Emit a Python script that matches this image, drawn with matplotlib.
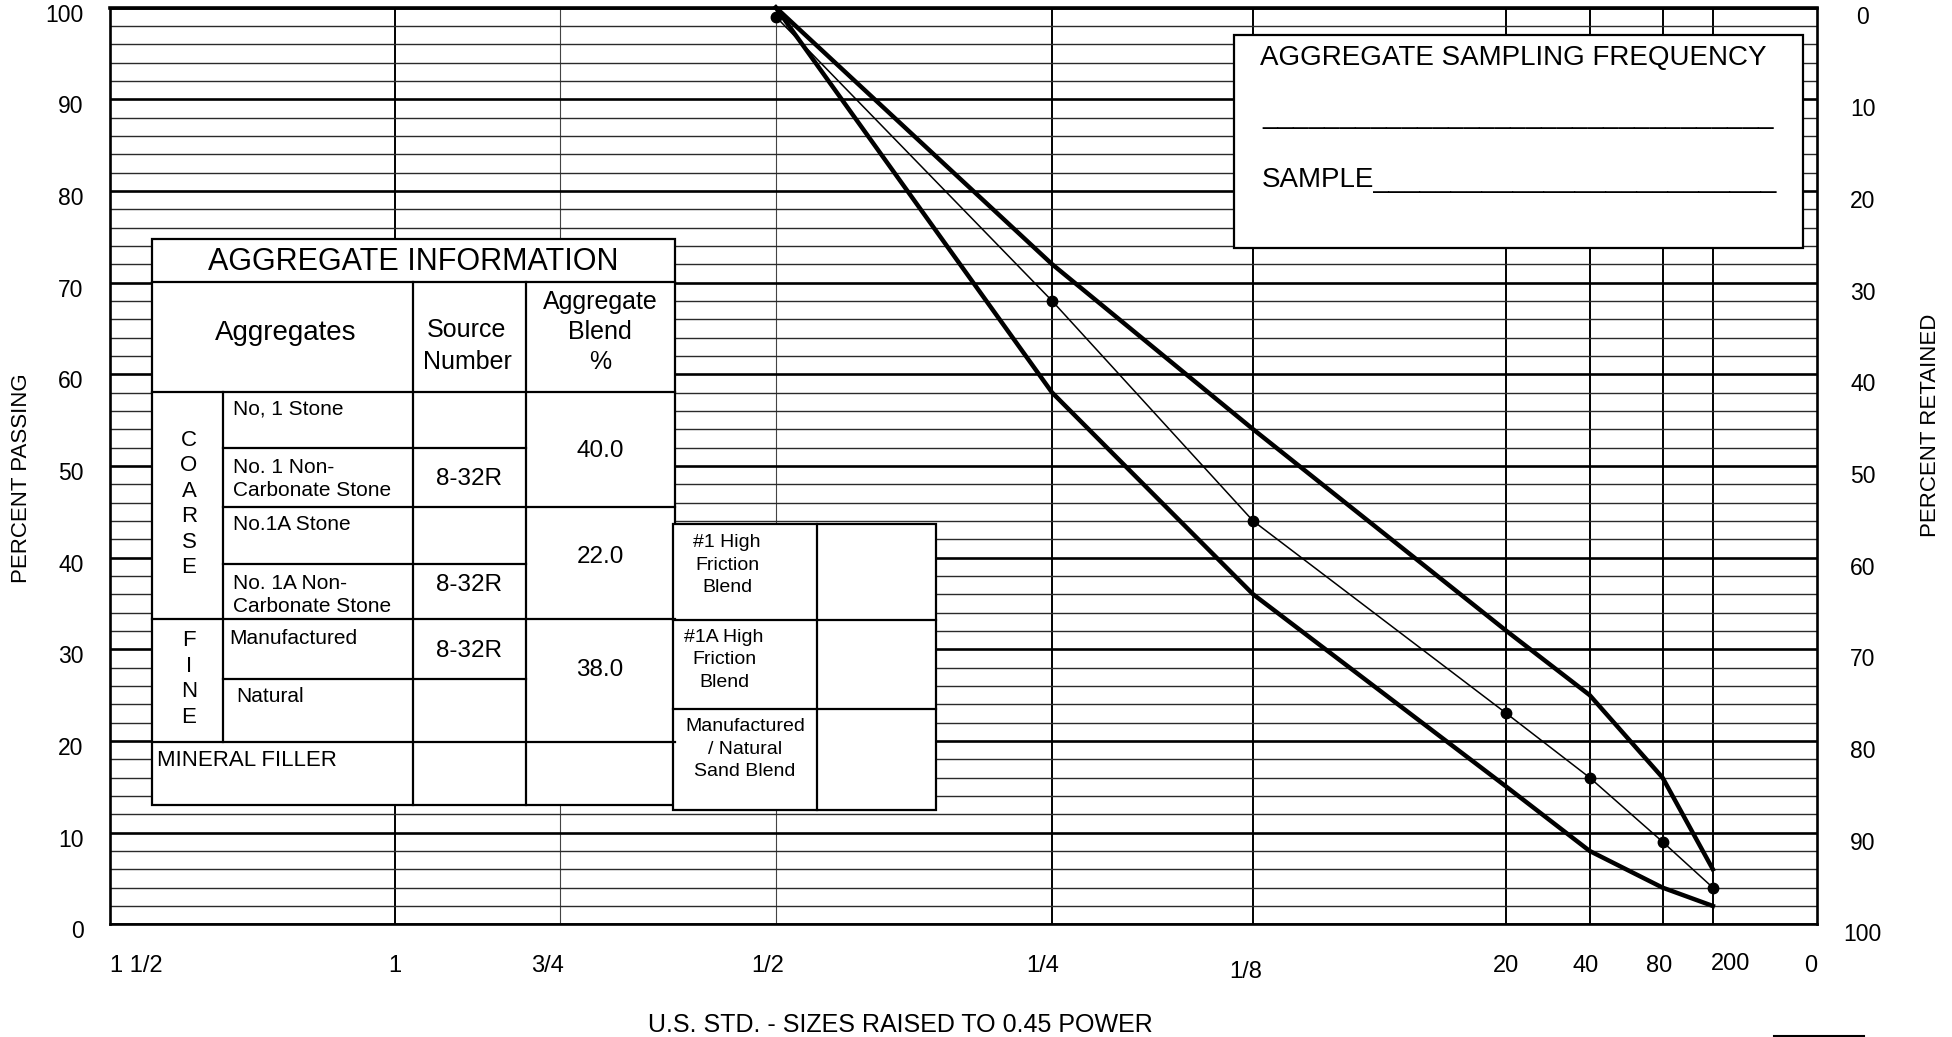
import matplotlib
matplotlib.use("Agg")
import matplotlib.pyplot as plt
import matplotlib.transforms as mtransforms
from matplotlib.patches import Rectangle

plt.rcParams['font.family'] = ['Liberation Sans', 'DejaVu Sans']

# sieve sizes (mm) and their labels on the 0.45 power chart
sieve_labels = ['1 1/2', '1', '3/4', '1/2', '1/4', '1/8', '20', '40', '80', '200', '0']
sieve_mm = [37.5, 25.0, 19.0, 12.5, 6.3, 3.2, 0.85, 0.425, 0.18, 0.075, 0.0]

# gradation curves (percent passing)
curve_mm = [12.5, 6.3, 3.2, 0.85, 0.425, 0.18, 0.075]
upper_limit = [100, 72, 54, 32, 25, 16, 6]
lower_limit = [100, 58, 36, 15, 8, 4, 2]
blend = [99, 68, 44, 23, 16, 9, 4]

W, H = 1952, 1037
fig = plt.figure(figsize=(W / 100, H / 100), dpi=100)

ax_left, ax_right, ax_top, ax_bot = 110, 1817, 7.5, 924.3
ax = fig.add_axes([ax_left / W, 1 - ax_bot / H, (ax_right - ax_left) / W, (ax_bot - ax_top) / H])

p = 0.45
xs = [s ** p for s in sieve_mm]
ax.set_xlim(37.5 ** p, 0)
ax.set_ylim(0, 100)

# horizontal grid
ax.set_yticks(range(0, 101, 10))
ax.set_yticks(range(0, 101, 2), minor=True)
ax.grid(which='major', axis='y', color='black', lw=1.9)
ax.grid(which='minor', axis='y', color='#2a2a2a', lw=1.0)
ax.set_axisbelow(True)

# vertical sieve lines
for lab, x in zip(sieve_labels, xs):
    if lab in ('1 1/2', '0'):
        continue
    thin = lab in ('3/4', '1/2')
    ax.axvline(x, color='#444444' if thin else 'black', lw=0.8 if thin else 1.4, zorder=0.5)

for sp in ax.spines.values():
    sp.set_linewidth(1.9)
ax.spines['top'].set_linewidth(2.6)

# x tick labels
ax.set_xticks(xs, sieve_labels)
ax.tick_params(axis='x', length=0, pad=22, labelsize=17)
x_shift = {'1 1/2': (0, 0), '1': (0, 0), '3/4': (-12, 0), '1/2': (-8, 0), '1/4': (-9, 0),
           '1/8': (-7, 6), '20': (0, 0), '40': (-4, 0), '80': (-3, 0), '200': (18, -2), '0': (0, 0)}
for lab in ax.get_xticklabels():
    t = lab.get_text()
    if t == '1 1/2':
        lab.set_ha('left')
    elif t == '0':
        lab.set_ha('right')
    dx, dy = x_shift[t]
    lab.set_transform(lab.get_transform() +
                      mtransforms.ScaledTranslation(dx / 100, -dy / 100, fig.dpi_scale_trans))

# left y tick labels
ax.tick_params(axis='y', which='both', length=0, pad=19, labelsize=16.5)
for lab in ax.get_yticklabels():
    lab.set_transform(lab.get_transform() +
                      mtransforms.ScaledTranslation(0, -5 / 100, fig.dpi_scale_trans))

# right axis: percent retained
ax2 = ax.twinx()
ax2.set_ylim(100, 0)
ax2.set_yticks(range(0, 101, 10))
ax2.tick_params(axis='y', length=0, pad=33, labelsize=16.5)
for lab in ax2.get_yticklabels():
    lab.set_ha('center')
    lab.set_transform(lab.get_transform() +
                      mtransforms.ScaledTranslation(0, -8 / 100, fig.dpi_scale_trans))
for sp in ax2.spines.values():
    sp.set_visible(False)

# gradation curves
cx = [s ** p for s in curve_mm]
ax.plot(cx, upper_limit, color='black', lw=3.2, solid_joinstyle='round', clip_on=False, zorder=3)
ax.plot(cx, lower_limit, color='black', lw=3.2, solid_joinstyle='round', clip_on=False, zorder=3)
ax.plot(cx, blend, color='black', lw=1.1, marker='o', ms=7.5, clip_on=False, zorder=4)

# overlay in pixel coordinates for the form boxes
ov = fig.add_axes([0, 0, 1, 1])
ov.set_xlim(0, W)
ov.set_ylim(H, 0)
ov.axis('off')
ov.patch.set_visible(False)

LW = 1.6

def box(x0, y0, x1, y1):
    ov.add_patch(Rectangle((x0, y0), x1 - x0, y1 - y0, facecolor='white', edgecolor='black', lw=LW, zorder=2))

def hl(y, x0, x1):
    ov.plot([x0, x1], [y, y], color='black', lw=LW, zorder=3)

def vl(x, y0, y1):
    ov.plot([x, x], [y0, y1], color='black', lw=LW, zorder=3)

def txt(x, y, s, size, ha='center', va='center', ls=1.2):
    ov.text(x, y, s, fontsize=size, ha=ha, va=va, multialignment=ha,
            linespacing=ls, zorder=4)

# AGGREGATE INFORMATION table
box(152, 239, 675, 805)
hl(282, 152, 675)
hl(392, 152, 675)
vl(223, 392, 742)
vl(413, 282, 805)
vl(526, 282, 805)
hl(448, 223, 526)
hl(507, 223, 675)
hl(564, 223, 526)
hl(619, 152, 675)
hl(679, 223, 526)
hl(742, 152, 675)

txt(413.5, 262, 'AGGREGATE INFORMATION', 22)
txt(286, 333, 'Aggregates', 20)
txt(467, 346, 'Source\nNumber', 18, ls=1.39)
txt(600, 332, 'Aggregate\nBlend\n%', 18, ls=1.34)
txt(189, 504, 'C\nO\nA\nR\nS\nE', 16, ls=1.28)
txt(189, 679, 'F\nI\nN\nE', 16, ls=1.28)
txt(233, 409, 'No, 1 Stone', 15, ha='left')
txt(233, 479, 'No. 1 Non-\nCarbonate Stone', 15, ha='left', ls=1.24)
txt(233, 525, 'No.1A Stone', 15, ha='left')
txt(233, 595, 'No. 1A Non-\nCarbonate Stone', 15, ha='left', ls=1.24)
txt(229, 638, 'Manufactured', 15, ha='left')
txt(236, 697, 'Natural', 15, ha='left')
txt(157, 760, 'MINERAL FILLER', 16, ha='left')
for y in (479, 585, 651):
    txt(469, y, '8-32R', 17.5)
txt(600, 451, '40.0', 17.5)
txt(600, 557, '22.0', 17.5)
txt(600, 670, '38.0', 17.5)

# high friction blend table
box(673, 524, 936, 810)
vl(817, 524, 810)
hl(620, 673, 936)
hl(709, 673, 936)
txt(727, 565, '#1 High\nFriction\nBlend', 14, ls=1.39)
txt(724, 660, '#1A High\nFriction\nBlend', 14, ls=1.39)
txt(745, 749, 'Manufactured\n/ Natural\nSand Blend', 14, ls=1.39)

# sampling frequency box
box(1234, 35, 1803, 248)
txt(1260, 65, 'AGGREGATE SAMPLING FREQUENCY', 20, ha='left', va='baseline')
txt(1262, 123, '_' * 33, 20, ha='left', va='baseline')
txt(1262, 187, 'SAMPLE' + '_' * 26, 20, ha='left', va='baseline')

# axis titles
ov.text(22, 478, 'PERCENT PASSING', rotation=90, fontsize=16, ha='center', va='center')
ov.text(1930, 425, 'PERCENT RETAINED', rotation=90, fontsize=16, ha='center', va='center')
ov.text(900, 1025, 'U.S. STD. - SIZES RAISED TO 0.45 POWER', fontsize=18, ha='center', va='center')
ov.plot([1774, 1864], [1035.5, 1035.5], color='black', lw=1.5)

fig.savefig('out.png', dpi=100)
